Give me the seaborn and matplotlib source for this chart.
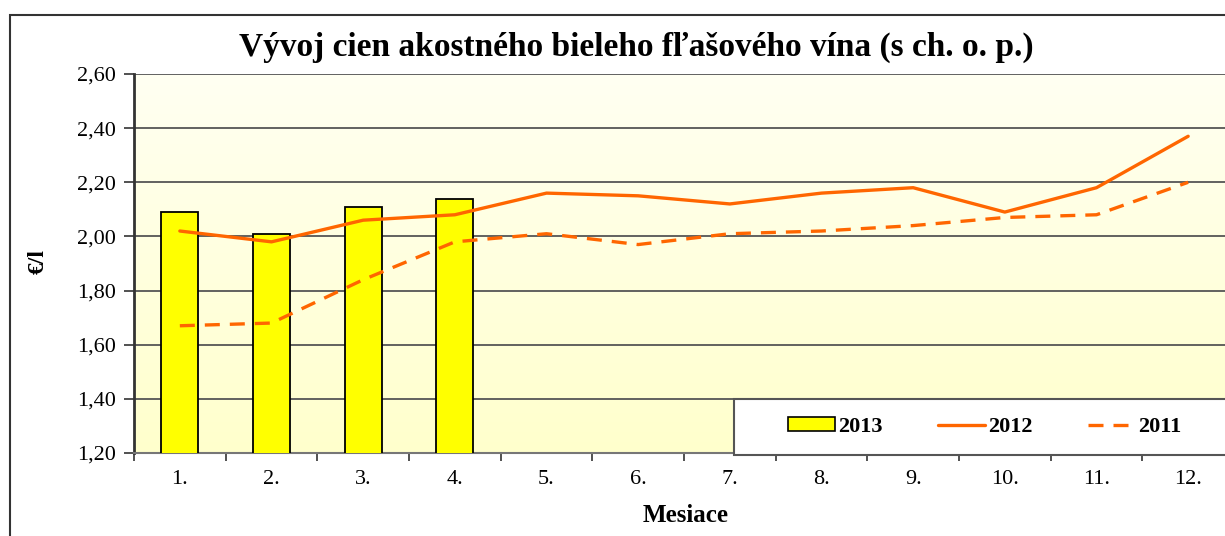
import numpy as np
import pandas as pd
import matplotlib
matplotlib.use("Agg")
import matplotlib.pyplot as plt
from matplotlib.patches import Rectangle
from matplotlib.lines import Line2D
from matplotlib.patches import Patch
from matplotlib.colors import LinearSegmentedColormap
import seaborn as sns

months = ["1.", "2.", "3.", "4.", "5.", "6.", "7.", "8.", "9.", "10.", "11.", "12."]
values_2013 = [2.09, 2.01, 2.11, 2.14]
values_2012 = [2.02, 1.98, 2.06, 2.08, 2.16, 2.15, 2.12, 2.16, 2.18, 2.09, 2.18, 2.37]
values_2011 = [1.67, 1.68, 1.84, 1.98, 2.01, 1.97, 2.01, 2.02, 2.04, 2.07, 2.08, 2.20]
y_ticks = [1.20, 1.40, 1.60, 1.80, 2.00, 2.20, 2.40, 2.60]

sns.set_theme(style="white")
plt.rcParams['font.family'] = ['Liberation Serif', 'DejaVu Serif']
plt.rcParams['text.color'] = 'black'
plt.rcParams['xtick.color'] = 'black'
plt.rcParams['ytick.color'] = 'black'

W, H = 1225, 536
fig = plt.figure(figsize=(W / 100, H / 100), dpi=100)
fig.patch.set_facecolor("white")

left_px, right_px, top_px, bottom_px = 134, 1234, 74, 453
ax = fig.add_axes([left_px / W, 1 - bottom_px / H, (right_px - left_px) / W, (bottom_px - top_px) / H])

# outer frame
fig.patches.append(Rectangle((10 / W, -0.05), 1.2, 1 - 15 / H + 0.05, transform=fig.transFigure,
                             fill=False, edgecolor="#333333", linewidth=1.5, zorder=0))

# gradient background
grad = np.linspace(0, 1, 256).reshape(-1, 1)
cmap = LinearSegmentedColormap.from_list("bg", ["#FFFFCC", "#FFFFF2"])
ax.imshow(grad, extent=[-0.5, 11.5, 2.60, 1.20], aspect="auto", cmap=cmap, zorder=0)

df13 = pd.DataFrame({"month": months[:4], "value": values_2013})
sns.barplot(data=df13, x="month", y="value", order=months, color="#FFFF00", width=0.4,
            edgecolor="black", linewidth=1.3, saturation=1, ax=ax, zorder=3)

x = np.arange(len(months))
sns.lineplot(x=x, y=values_2012, ax=ax, color="#FF6600", linewidth=2.4, zorder=4)
sns.lineplot(x=x, y=values_2011, ax=ax, color="#FF6600", linewidth=2.4, zorder=4,
             linestyle=(0, (4.5, 3)))

ax.set_xlim(-0.5, 11.5)
ax.set_ylim(1.20, 2.60)
ax.set_yticks(y_ticks)
ax.set_yticklabels([f"{v:.2f}".replace(".", ",") for v in y_ticks], fontsize=16)
ax.set_xticks(x)
ax.set_xticklabels(months, fontsize=16)
ax.set_xticks(np.arange(-0.5, 12, 1), minor=True)
ax.tick_params(axis="x", which="major", length=0, pad=12, colors="black")
ax.tick_params(axis="x", which="minor", length=6, width=1.2, color="#333333", direction="out", bottom=True)
ax.tick_params(axis="y", length=7, width=1.2, color="#333333", labelcolor="black", direction="out", left=True, pad=6)
ax.grid(axis="y", color="#555555", linewidth=1.3, zorder=1)
ax.set_axisbelow(True)
for s in ["top", "right"]:
    ax.spines[s].set_visible(False)
ax.spines["left"].set_color("#333333")
ax.spines["left"].set_linewidth(2)
ax.spines["bottom"].set_color("#777777")
ax.spines["bottom"].set_linewidth(1.5)

ax.set_xlabel("")
ax.set_ylabel("")
fig.text(38 / W, 1 - 262 / H, "€/l", rotation=90, fontsize=17, fontweight="bold", ha="center", va="center")
fig.text(686 / W, 1 - 516 / H, "Mesiace", fontsize=18, fontweight="bold", ha="center", va="center")
fig.text(636 / W, 1 - 47 / H, "Vývoj cien akostného bieleho fľašového vína (s ch. o. p.)",
         fontsize=24, fontweight="bold", ha="center", va="center")

# legend box
fig.patches.append(Rectangle((734 / W, 1 - 455 / H), 0.6, 56 / H, transform=fig.transFigure,
                             facecolor="white", edgecolor="#555555", linewidth=1.5, zorder=9))

handles = [Patch(facecolor="#FFFF00", edgecolor="black", linewidth=1.2),
           Line2D([], [], color="#FF6600", linewidth=2.4),
           Line2D([], [], color="#FF6600", linewidth=2.4, linestyle=(0, (4.5, 3)))]
leg = fig.legend(handles, ["2013", "2012", "2011"], ncol=3, loc="center left",
                 bbox_to_anchor=(788 / W, 1 - 427 / H), frameon=False,
                 prop={"weight": "bold", "size": 16}, handlelength=2.1, handleheight=0.6,
                 handletextpad=0.15, columnspacing=2.5, borderpad=0, borderaxespad=0)
leg.set_zorder(10)

fig.savefig("out.png", dpi=100)
